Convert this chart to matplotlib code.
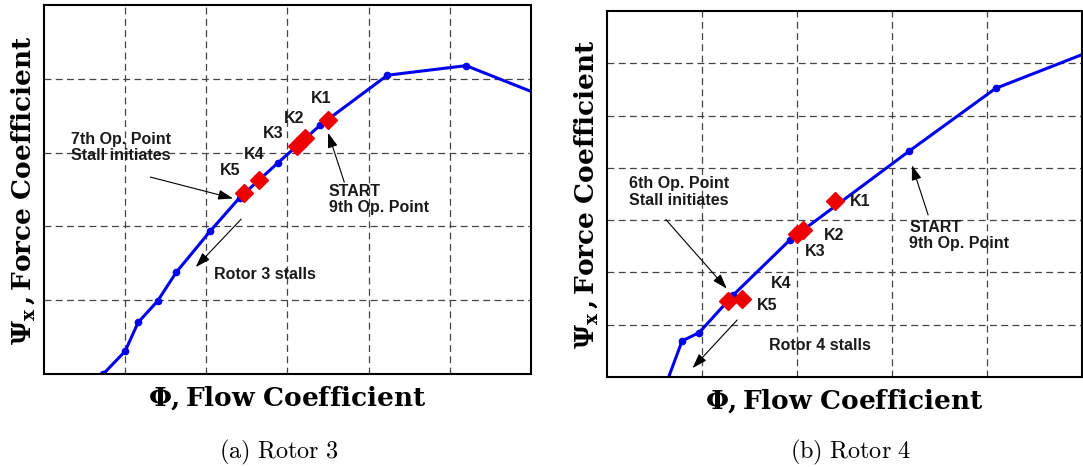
import matplotlib
matplotlib.use("Agg")
import matplotlib.pyplot as plt

plt.rcParams['mathtext.fontset'] = 'cm'

# ---- Rotor 3 (left panel) ----
r3_phi = [0.73, 1.0, 1.16, 1.40, 1.63, 2.05, 2.41, 2.88, 3.40, 4.23, 5.20, 6.30]
r3_psi = [0.0, 0.31, 0.70, 0.99, 1.38, 1.94, 2.39, 2.86, 3.37, 4.05, 4.18, 3.70]
r3_k_phi = [3.50, 3.22, 3.12, 2.65, 2.47]
r3_k_psi = [3.45, 3.20, 3.09, 2.63, 2.45]
r3_k_lab = ['K1', 'K2', 'K3', 'K4', 'K5']
r3_k_lx = [3.42, 3.08, 2.83, 2.59, 2.30]
r3_k_ly = [3.73, 3.46, 3.26, 2.98, 2.76]

# ---- Rotor 4 (right panel) ----
r4_phi = [0.60, 0.79, 0.97, 1.33, 1.93, 3.18, 4.09, 5.40]
r4_psi = [-0.24, 0.69, 0.85, 1.57, 2.63, 4.32, 5.52, 6.45]
r4_k_phi = [2.40, 2.06, 2.00, 1.42, 1.27]
r4_k_psi = [3.36, 2.81, 2.74, 1.50, 1.45]
r4_k_lab = ['K1', 'K2', 'K3', 'K4', 'K5']
r4_k_lx = [2.67, 2.39, 2.19, 1.83, 1.69]
r4_k_ly = [3.36, 2.70, 2.40, 1.79, 1.36]

fig = plt.figure(figsize=(10.83, 4.67), dpi=100)
ax1 = fig.add_axes([0.0406, 0.199, 0.4497, 0.790])
ax2 = fig.add_axes([0.5605, 0.1927, 0.4386, 0.7837])

ann_font = dict(family='Liberation Sans', fontweight='bold', fontsize=11.5, color='#1a1a1a')
arrow = dict(arrowstyle='-|>,head_length=0.9,head_width=0.3', color='black', lw=0.8,
             shrinkA=0, shrinkB=0)
lab_font = dict(fontsize=19, math_fontfamily='dejavuserif')


def setup(ax, xmax, ymax):
    ax.set_xlim(0, xmax)
    ax.set_ylim(0, ymax)
    ax.set_xticks(range(1, xmax))
    ax.set_yticks(range(0, ymax))
    ax.tick_params(length=0, labelbottom=False, labelleft=False)
    ax.grid(True, color='#444444', linestyle=(0, (5.5, 3.5)), lw=0.9)
    for s in ax.spines.values():
        s.set_linewidth(1.5)
    ax.set_xlabel(r'$\mathbf{\Phi, Flow\ Coefficient}$', labelpad=7, **lab_font)
    ax.set_ylabel(r'$\mathbf{\Psi_x\,, Force\ Coefficient}$', labelpad=5, **lab_font)


setup(ax1, 6, 5)
ax1.plot(r3_phi, r3_psi, '-o', color='#0000ee', lw=2.2, ms=4.5, clip_on=True)
ax1.plot(r3_k_phi, r3_k_psi, 'D', color='#ee0000', ms=9.5, ls='none', zorder=5)
for lab, x, y in zip(r3_k_lab, r3_k_lx, r3_k_ly):
    ax1.text(x, y, lab, ha='center', va='center', **ann_font)
ax1.text(0.33, 3.07, '7th Op. Point\nStall initiates', ha='left', va='center',
         linespacing=1.1, **ann_font)
ax1.annotate('', xy=(2.33, 2.38), xytext=(1.31, 2.67), arrowprops=arrow)
ax1.text(3.51, 2.37, 'START\n9th Op. Point', ha='left', va='center',
         linespacing=1.1, **ann_font)
ax1.annotate('', xy=(3.50, 3.27), xytext=(3.70, 2.60), arrowprops=arrow)
ax1.text(2.09, 1.35, 'Rotor 3 stalls', ha='left', va='center', **ann_font)
ax1.annotate('', xy=(1.87, 1.45), xytext=(2.43, 2.10), arrowprops=arrow)

setup(ax2, 5, 7)
ax2.plot(r4_phi, r4_psi, '-o', color='#0000ee', lw=2.2, ms=4.5, clip_on=True)
ax2.plot(r4_k_phi, r4_k_psi, 'D', color='#ee0000', ms=9.5, ls='none', zorder=5)
for lab, x, y in zip(r4_k_lab, r4_k_lx, r4_k_ly):
    ax2.text(x, y, lab, ha='center', va='center', **ann_font)
ax2.text(0.23, 3.54, '6th Op. Point\nStall initiates', ha='left', va='center',
         linespacing=1.1, **ann_font)
ax2.annotate('', xy=(1.26, 1.69), xytext=(0.62, 3.01), arrowprops=arrow)
ax2.text(3.18, 2.70, 'START\n9th Op. Point', ha='left', va='center',
         linespacing=1.1, **ann_font)
ax2.annotate('', xy=(3.21, 4.05), xytext=(3.38, 3.10), arrowprops=arrow)
ax2.text(1.70, 0.60, 'Rotor 4 stalls', ha='left', va='center', **ann_font)
ax2.annotate('', xy=(0.90, 0.17), xytext=(1.37, 1.09), arrowprops=arrow)

fig.text(0.257, 0.032, r'$\mathrm{(a)\ Rotor\ 3}$', ha='center', va='center', fontsize=17.5)
fig.text(0.785, 0.032, r'$\mathrm{(b)\ Rotor\ 4}$', ha='center', va='center', fontsize=17.5)

fig.savefig('out.png', dpi=100)
